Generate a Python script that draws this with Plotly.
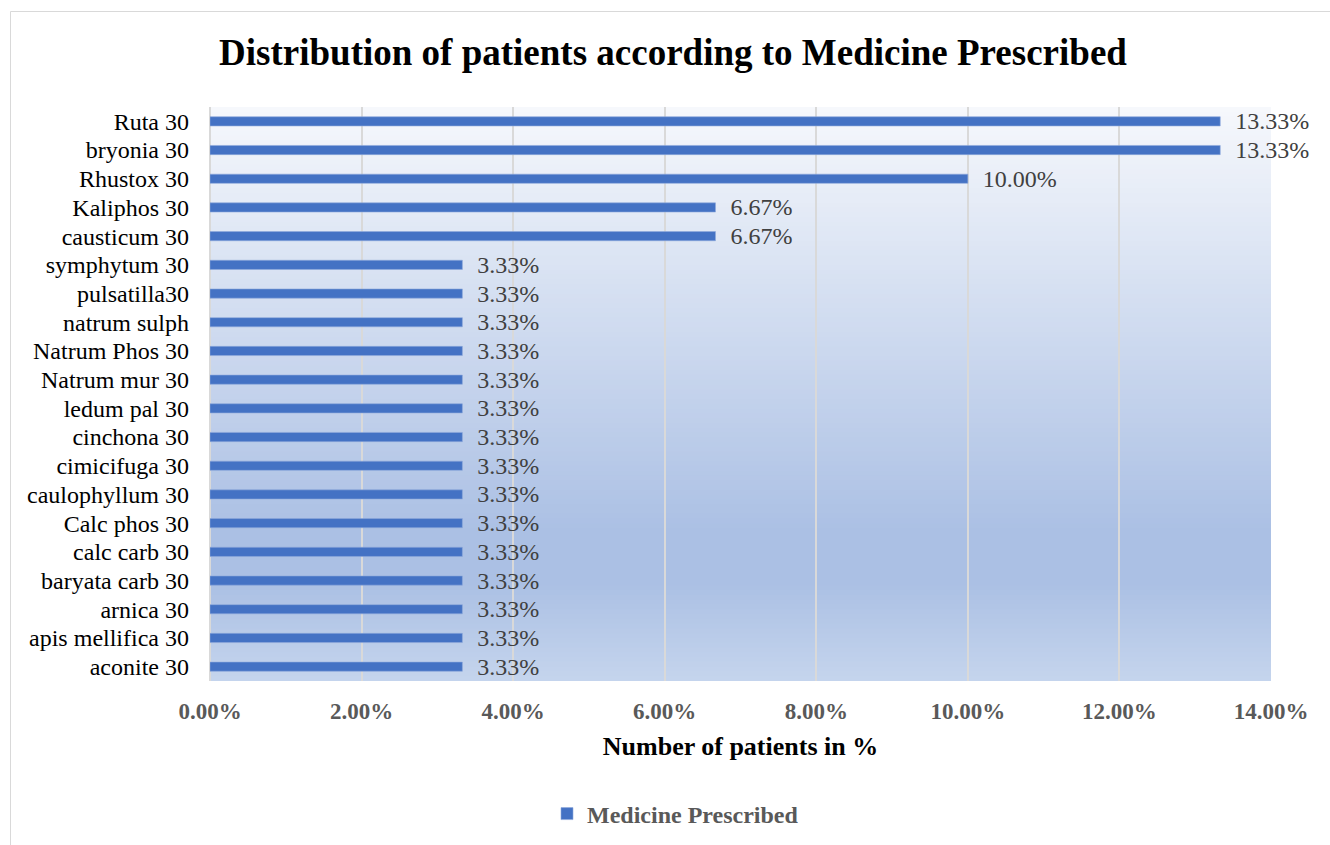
import plotly.graph_objects as go

# ---- data ----
medicines = [
    "Ruta 30", "bryonia 30", "Rhustox 30", "Kaliphos 30", "causticum 30",
    "symphytum 30", "pulsatilla30", "natrum sulph", "Natrum Phos 30", "Natrum mur 30",
    "ledum pal 30", "cinchona 30", "cimicifuga 30", "caulophyllum 30", "Calc phos 30",
    "calc carb 30", "baryata carb 30", "arnica 30", "apis mellifica 30", "aconite 30",
]
percent_patients = [
    13.33, 13.33, 10.00, 6.67, 6.67,
    3.33, 3.33, 3.33, 3.33, 3.33,
    3.33, 3.33, 3.33, 3.33, 3.33,
    3.33, 3.33, 3.33, 3.33, 3.33,
]
x_ticks = [0, 2, 4, 6, 8, 10, 12, 14]
x_tick_labels = ["0.00%", "2.00%", "4.00%", "6.00%", "8.00%", "10.00%", "12.00%", "14.00%"]
series_name = "Medicine Prescribed"
title_text = "Distribution of patients according to Medicine Prescribed"
x_title = "Number of patients in %"

SERIF = "Liberation Serif, Times New Roman, serif"

fig = go.Figure()
fig.add_trace(go.Bar(
    y=medicines,
    x=percent_patients,
    orientation="h",
    name=series_name,
    marker=dict(color="#4472c4", line=dict(color="#8faadc", width=0.6)),
    width=0.32,
    texttemplate="\u00a0\u00a0%{x:.2f}%",
    textposition="outside",
    constraintext="none",
    cliponaxis=False,
    textfont=dict(family=SERIF, size=24, color="#404040"),
    showlegend=True,
))

# ---- gradient plot background (style only) ----
def hex2rgb(h):
    h = h.lstrip("#")
    return tuple(int(h[i:i + 2], 16) for i in (0, 2, 4))

stops = [(0.0, hex2rgb("#f6f8fc")), (0.74, hex2rgb("#abc0e4")),
         (0.83, hex2rgb("#abc0e4")), (1.0, hex2rgb("#c5d4ed"))]

def color_at(t):
    for (t0, c0), (t1, c1) in zip(stops[:-1], stops[1:]):
        if t0 <= t <= t1:
            f = 0 if t1 == t0 else (t - t0) / (t1 - t0)
            return "rgb(%d,%d,%d)" % tuple(round(a + (b - a) * f) for a, b in zip(c0, c1))
    return "rgb(%d,%d,%d)" % stops[-1][1]

shapes = []
N = 120
for i in range(N):
    t = (i + 0.5) / N
    y1 = 1 - i / N
    y0 = 1 - (i + 1) / N - 0.002
    shapes.append(dict(type="rect", xref="paper", yref="paper",
                       x0=0, x1=1, y0=max(y0, 0), y1=y1,
                       fillcolor=color_at(t), line=dict(width=0), layer="below"))

# outer chart border
W, H = 1330, 845
L, R, T, B = 210, 59, 107, 164
pw, ph = W - L - R, H - T - B
def px2x(px):
    return (px - L) / pw
def px2y(py):
    return (H - B - py) / ph
shapes.append(dict(type="rect", xref="paper", yref="paper",
                   x0=px2x(10.5), x1=px2x(1360), y0=px2y(870), y1=px2y(11.5),
                   line=dict(color="#d9d9d9", width=1), fillcolor="rgba(0,0,0,0)",
                   layer="below"))

fig.update_layout(
    width=W, height=H,
    margin=dict(l=L, r=R, t=T, b=B, pad=0),
    paper_bgcolor="white",
    plot_bgcolor="rgba(0,0,0,0)",
    shapes=shapes,
    title=dict(text="<b>" + title_text + "</b>", x=673 / W, xanchor="center",
               y=1 - 52 / H, yanchor="middle", yref="container",
               font=dict(family=SERIF, size=37, color="#000000")),
    showlegend=True,
    legend=dict(orientation="h", xref="container", yref="container",
                x=547 / W, xanchor="left", y=1 - 814 / H, yanchor="middle",
                font=dict(family=SERIF, size=24, color="#595959", weight="bold"),
                bgcolor="rgba(0,0,0,0)", itemclick=False),
    xaxis=dict(range=[0, 14], tickmode="array", tickvals=x_ticks, ticktext=x_tick_labels,
               showgrid=True, gridcolor="#d9d9d9", gridwidth=2,
               zeroline=True, zerolinecolor="#d9d9d9", zerolinewidth=2,
               showline=False, ticks="", ticklabelstandoff=14, automargin=False,
               tickfont=dict(family=SERIF, size=23, color="#595959", weight="bold"),
               title=dict(text="<b>" + x_title + "</b>", standoff=13,
                          font=dict(family=SERIF, size=26, color="#000000"))),
    yaxis=dict(tickmode="array", tickvals=medicines, ticktext=medicines,
               categoryorder="array", categoryarray=medicines, autorange="reversed",
               showgrid=False, zeroline=False, showline=False, ticks="",
               ticklabelstandoff=20, automargin=False,
               tickfont=dict(family=SERIF, size=24, color="#000000")),
)

fig.write_html("out.html", config={"displayModeBar": False},
               post_script="document.body.style.margin='0';")
